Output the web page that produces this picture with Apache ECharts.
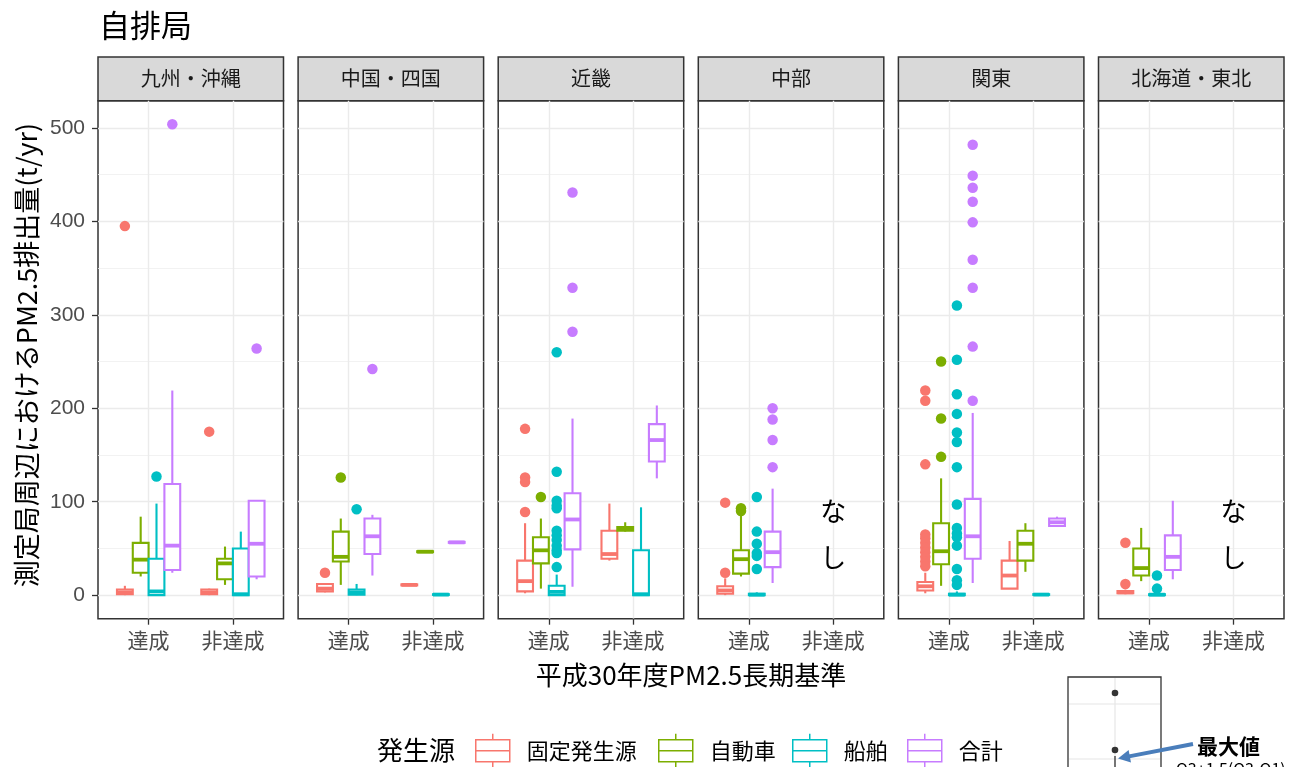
<!DOCTYPE html>
<html>
<head>
<meta charset="UTF-8">
<title>自排局</title>
<script src="https://cdn.jsdelivr.net/npm/echarts@6/dist/echarts.min.js"></script>
<style>
  html, body { margin: 0; padding: 0; background: #fff; }
  #main { width: 1289px; height: 767px; }
</style>
</head>
<body>
<div id="main"></div>
<script type="text/javascript">
// ---- data ----
var regions = ['九州・沖縄', '中国・四国', '近畿', '中部', '関東', '北海道・東北'];
var levels = ['達成', '非達成'];
var sources = ['固定発生源', '自動車', '船舶', '合計'];
var yTicks = [0, 100, 200, 300, 400, 500];

// [下ひげ, Q1, 中央値, Q3, 上ひげ]  行 = 発生源, 列 = 達成/非達成
var kyushuBox = [
  [[0, 1, 3, 6, 10], [0, 1, 3, 6, 7]],
  [[20, 24, 38, 56, 84], [11, 17, 34, 39, 52]],
  [[0, 0, 4, 39, 98], [0, 0, 1, 50, 68]],
  [[24, 27, 53, 119, 219], [17, 20, 55, 101, 101]]
];
var kyushuOut = [[[395], [175]], [[], []], [[127], []], [[504], [264]]];

var chugokuBox = [
  [[3, 4, 7, 12, 13], [10, 10.5, 11, 11.5, 12]],
  [[11, 36, 41, 68, 82], [45.5, 46, 46.5, 47, 47.5]],
  [[0, 0.5, 3, 6, 12], [0, 0.3, 0.6, 1, 1.2]],
  [[21, 44, 63, 82, 86], [55.5, 56, 56.5, 57, 57.5]]
];
var chugokuOut = [[[24], []], [[126], []], [[92], []], [[242], []]];

var kinkiBox = [
  [[2, 4, 15, 37, 77], [37, 39, 44, 69, 98]],
  [[7, 34, 48, 62, 82], [68, 69, 71.5, 73, 78]],
  [[0, 0, 3.5, 10, 22], [0, 0, 1, 48, 94]],
  [[9, 49, 81, 109, 189], [125, 143, 166, 183, 203]]
];
var kinkiOut = [
  [[178, 126, 121, 89], []],
  [[105], []],
  [[260, 132, 101, 96, 93, 69, 64, 59, 53, 48, 45, 30], []],
  [[431, 329, 282], []]
];

var chubuBox = [
  [[0, 1.5, 5, 9.5, 18], null],
  [[20, 23, 38.5, 48, 86], null],
  [[0, 0, 0.5, 1.5, 3], null],
  [[13, 30, 46, 68, 114], null]
];
var chubuOut = [
  [[24, 99], []],
  [[93, 90], []],
  [[105, 68, 55, 45, 42, 28], []],
  [[200, 188, 166, 137], []]
];

var kantoBox = [
  [[2, 5, 9.5, 14, 24], [7, 7, 21, 37, 58]],
  [[10, 33, 47, 77, 125], [25, 37, 55, 69, 77]],
  [[0, 0, 0.5, 1.5, 4], [0, 0.3, 0.6, 1, 1.2]],
  [[13, 39, 63, 103, 195], [73, 74, 78, 82, 84]]
];
var kantoOut = [
  [[219, 208, 140, 65, 61, 56, 51, 46, 41, 36, 31], []],
  [[250, 189, 148], []],
  [[310, 252, 215, 194, 174, 164, 137, 97, 72, 66, 62, 53, 28, 16, 11], []],
  [[482, 449, 436, 421, 399, 359, 329, 266, 208], []]
];

var tohokuBox = [
  [[1, 2, 3, 4.5, 6], null],
  [[15, 21, 29, 50, 72], null],
  [[0, 0, 0.5, 1, 2], null],
  [[17, 27, 41, 64, 101], null]
];
var tohokuOut = [[[56, 12], []], [[], []], [[21, 7], []], [[], []]];

var boxStats = [kyushuBox, chugokuBox, kinkiBox, chubuBox, kantoBox, tohokuBox];
var outliers = [kyushuOut, chugokuOut, kinkiOut, chubuOut, kantoOut, tohokuOut];

// データなし [地域, 水準]
var noData = [[3, 1], [5, 1]];
var noDataY = 65;

// ---- style / layout ----
var colors = ['#F8766D', '#7CAE00', '#00BFC4', '#C77CFF'];
var FONT = "'Noto Sans CJK JP', 'Noto Sans', sans-serif";
var NUM_FONT = "'Liberation Sans', Arial, sans-serif";
var PANEL_LEFT = 98, PANEL_STEP = 200.1, PANEL_W = 185.5;
var PANEL_TOP = 100.7, PANEL_H = 518, STRIP_TOP = 57;
var DODGE = [-0.28125, -0.09375, 0.09375, 0.28125];
var BOX_W = 0.1875;

function renderBox(params, api) {
  var x = api.value(0);
  var hw = BOX_W / 2;
  var color = api.visual('color');
  var lo = api.coord([x, api.value(1)]);
  var q1 = api.coord([x, api.value(2)]);
  var q3 = api.coord([x, api.value(4)]);
  var hi = api.coord([x, api.value(5)]);
  var bl = api.coord([x - hw, api.value(2)]);
  var tr = api.coord([x + hw, api.value(4)]);
  var ml = api.coord([x - hw, api.value(3)]);
  var mr = api.coord([x + hw, api.value(3)]);
  var lw = 2.1;
  return {
    type: 'group',
    children: [
      { type: 'line', shape: { x1: hi[0], y1: hi[1], x2: q3[0], y2: q3[1] }, style: { stroke: color, lineWidth: lw } },
      { type: 'line', shape: { x1: lo[0], y1: lo[1], x2: q1[0], y2: q1[1] }, style: { stroke: color, lineWidth: lw } },
      { type: 'rect', shape: { x: bl[0], y: tr[1], width: tr[0] - bl[0], height: bl[1] - tr[1] },
        style: { fill: '#fff', stroke: color, lineWidth: lw } },
      { type: 'line', shape: { x1: ml[0], y1: ml[1], x2: mr[0], y2: mr[1] }, style: { stroke: color, lineWidth: 3.8 } }
    ]
  };
}

function renderNone(params, api) {
  var p = api.coord([api.value(0), api.value(1)]);
  return {
    type: 'text', x: p[0], y: p[1],
    style: { text: 'な\nし', fontSize: 26, lineHeight: 46, fontFamily: FONT, fill: '#000',
      align: 'center', verticalAlign: 'middle' }
  };
}

var grids = [], xAxes = [], yAxes = [], series = [], graphics = [];

regions.forEach(function (region, r) {
  var left = PANEL_LEFT + r * PANEL_STEP;
  grids.push({
    left: left, top: PANEL_TOP, width: PANEL_W, height: PANEL_H,
    show: true, borderColor: '#333333', borderWidth: 1.5, backgroundColor: '#fff',
    outerBoundsMode: 'none'
  });
  xAxes.push({
    type: 'value', gridIndex: r, min: 0.4, max: 2.6, position: 'bottom',
    axisLine: { show: false, onZero: false },
    axisTick: { show: true, customValues: [1, 2], length: 6, lineStyle: { color: '#333', width: 1.3 } },
    axisLabel: {
      customValues: [1, 2], margin: 11, fontSize: 21, color: '#4D4D4D', fontFamily: FONT,
      formatter: function (v) { return levels[Math.round(v) - 1] || ''; }
    },
    splitLine: { show: true, lineStyle: { color: '#EBEBEB', width: 1.4 } }
  });
  yAxes.push({
    type: 'value', gridIndex: r, min: -25.2, max: 529.2, position: 'left',
    axisLine: { show: false, onZero: false },
    axisTick: { show: r === 0, customValues: yTicks, length: 6, lineStyle: { color: '#333', width: 1.3 } },
    axisLabel: {
      show: r === 0, customValues: yTicks, margin: 13, fontSize: 21, color: '#4D4D4D', fontFamily: NUM_FONT,
      formatter: function (v) { return yTicks.indexOf(v) >= 0 ? String(v) : ''; }
    },
    splitLine: { show: true, lineStyle: { color: '#EBEBEB', width: 1.4 } },
    minorTick: { show: false, splitNumber: 2 },
    minorSplitLine: { show: true, lineStyle: { color: '#EFEFEF', width: 0.8 } }
  });

  // strip
  graphics.push({
    type: 'rect', silent: true,
    shape: { x: left, y: STRIP_TOP, width: PANEL_W, height: PANEL_TOP - STRIP_TOP },
    style: { fill: '#D9D9D9', stroke: '#333333', lineWidth: 1.5 }
  });
  graphics.push({
    type: 'text', silent: true, x: left + PANEL_W / 2, y: (STRIP_TOP + PANEL_TOP) / 2,
    style: { text: region, fontSize: 20, fontFamily: FONT, fill: '#1A1A1A',
      align: 'center', verticalAlign: 'middle', textAlign: 'center', textVerticalAlign: 'middle' }
  });

  sources.forEach(function (src, s) {
    var boxes = [], pts = [];
    levels.forEach(function (lv, k) {
      var st = boxStats[r][s][k];
      var x = k + 1 + DODGE[s];
      if (st) boxes.push([x].concat(st));
      outliers[r][s][k].forEach(function (v) { pts.push([x, v]); });
    });
    series.push({
      type: 'custom', name: src, xAxisIndex: r, yAxisIndex: r,
      itemStyle: { color: colors[s] },
      renderItem: renderBox,
      encode: { x: 0, y: [1, 2, 3, 4, 5] },
      data: boxes, silent: true, z: 3
    });
    series.push({
      type: 'scatter', name: src, xAxisIndex: r, yAxisIndex: r,
      symbol: 'circle', symbolSize: 10.5,
      itemStyle: { color: colors[s], opacity: 1 },
      data: pts, silent: true, z: 2
    });
  });
});

noData.forEach(function (nd) {
  series.push({
    type: 'custom', xAxisIndex: nd[0], yAxisIndex: nd[0], silent: true,
    renderItem: renderNone, encode: { x: 0, y: 1 },
    data: [[nd[1] + 1, noDataY]]
  });
});

// axis titles
graphics.push({
  type: 'text', silent: true, x: PANEL_LEFT + (5 * PANEL_STEP + PANEL_W) / 2, y: 675,
  style: { text: '平成30年度PM2.5長期基準', fontSize: 26, fontFamily: FONT, fill: '#000',
    align: 'center', verticalAlign: 'middle', textAlign: 'center', textVerticalAlign: 'middle' }
});
graphics.push({
  type: 'text', silent: true, x: 27, y: 355, rotation: Math.PI / 2,
  style: { text: '測定局周辺におけるPM2.5排出量(t/yr)', fontSize: 27, fontFamily: FONT, fill: '#000',
    align: 'center', verticalAlign: 'middle', textAlign: 'center', textVerticalAlign: 'middle' }
});
// legend title
graphics.push({
  type: 'text', silent: true, x: 377, y: 750,
  style: { text: '発生源', fontSize: 26, fontFamily: FONT, fill: '#000',
    align: 'left', verticalAlign: 'middle', textAlign: 'left', textVerticalAlign: 'middle' }
});

// 凡例の見本図（右下）
graphics.push({
  type: 'group', silent: true,
  children: [
    { type: 'rect', shape: { x: 1068, y: 677, width: 93, height: 120 }, style: { fill: '#fff', stroke: '#333', lineWidth: 1.3 } },
    { type: 'line', shape: { x1: 1069, y1: 704, x2: 1160, y2: 704 }, style: { stroke: '#E6E6E6', lineWidth: 1.2 } },
    { type: 'line', shape: { x1: 1069, y1: 759, x2: 1160, y2: 759 }, style: { stroke: '#E6E6E6', lineWidth: 1.2 } },
    { type: 'line', shape: { x1: 1115, y1: 678, x2: 1115, y2: 767 }, style: { stroke: '#E6E6E6', lineWidth: 1.2 } },
    { type: 'circle', shape: { cx: 1115, cy: 693, r: 3.3 }, style: { fill: '#333' } },
    { type: 'circle', shape: { cx: 1115, cy: 750, r: 3.3 }, style: { fill: '#333' } },
    { type: 'line', shape: { x1: 1115, y1: 756, x2: 1115, y2: 767 }, style: { stroke: '#333', lineWidth: 1.3 } },
    { type: 'line', shape: { x1: 1193, y1: 744, x2: 1129, y2: 756.4 }, style: { stroke: '#4A7EBB', lineWidth: 4 } },
    { type: 'polygon', shape: { points: [[1118, 758.5], [1131, 762.4], [1128.6, 750]] }, style: { fill: '#4A7EBB' } },
    { type: 'text', x: 1197, y: 746, style: { text: '最大値', fontSize: 21, fontWeight: 'bold', fontFamily: FONT, fill: '#000',
      align: 'left', verticalAlign: 'middle', textAlign: 'left', textVerticalAlign: 'middle' } },
    { type: 'text', x: 1176, y: 761, style: { text: 'Q3+1.5(Q3-Q1)', fontSize: 16, fontFamily: FONT, fill: '#000',
      align: 'left', verticalAlign: 'top', textAlign: 'left', textVerticalAlign: 'top' } }
  ]
});

var legendLeft = [475, 658, 792, 907];
var legends = sources.map(function (src, s) {
  return {
    left: legendLeft[s], top: 733, orient: 'horizontal', padding: 0,
    itemWidth: 34, itemHeight: 34, selectedMode: false,
    textStyle: { fontSize: 22, fontFamily: FONT, color: '#000', padding: [0, 0, 0, 12] },
    data: [{
      name: src,
      icon: 'path://M17,0V6M0,6H34V28H0ZM0,17H34M17,28V34',
      itemStyle: { color: '#fff', borderColor: colors[s], borderWidth: 1.5 }
    }]
  };
});

var myChart = echarts.init(document.getElementById('main'));
var option = {
  animation: false,
  backgroundColor: '#fff',
  title: {
    text: '自排局', left: 94, top: 5,
    textStyle: { fontSize: 31, fontWeight: 'normal', color: '#000', fontFamily: FONT }
  },
  legend: legends,
  grid: grids,
  xAxis: xAxes,
  yAxis: yAxes,
  graphic: graphics,
  series: series
};
myChart.setOption(option);
</script>
</body>
</html>
